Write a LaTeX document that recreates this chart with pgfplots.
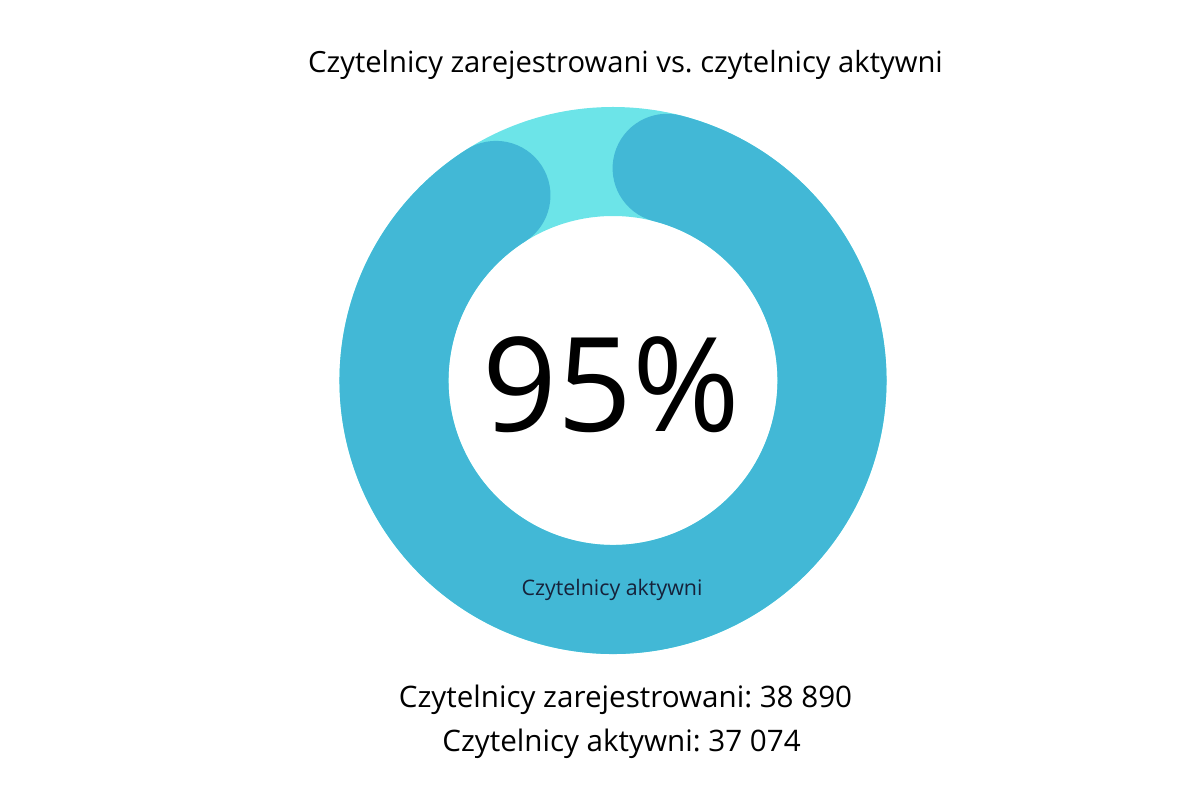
\documentclass[border=0pt]{standalone}
\usepackage{fontspec}
\setmainfont{Open Sans}
\usepackage{pgfplots}
\pgfplotsset{compat=1.18}
\frenchspacing

\definecolor{ringlight}{RGB}{108,228,232}
\definecolor{ringblue}{RGB}{66,184,214}
\definecolor{labelnavy}{RGB}{22,34,58}

% registered / active readers
\def\registered{38 890}
\def\active{37 074}
% arc ends (degrees, counter-clockwise from east) as drawn in the chart
\def\arcstart{75.7}
\def\arcend{-237.7}

\begin{document}
\begin{tikzpicture}
\begin{axis}[
    width=600bp, height=400bp,
    scale only axis,
    xmin=0, xmax=1200, ymin=0, ymax=800,
    y dir=reverse,
    hide axis,
    clip=false,
]
    \path (axis cs:0,0) rectangle (axis cs:1200,800);

    % background ring
    \draw[ringlight, line width=54.5bp] (axis cs:613,380.5) circle[radius=109.5bp];
    % value arc
    \draw[ringblue, line width=54.5bp, line cap=round]
        (axis cs:613,380.5) ++(\arcstart:109.5bp)
        arc[start angle=\arcstart, end angle=\arcend, radius=109.5bp];

    \node[anchor=base, font=\fontsize{14.6bp}{17bp}\selectfont]
        at (axis cs:625.5,73) {Czytelnicy zarejestrowani vs. czytelnicy aktywni};
    \node[anchor=base, font=\fontsize{65.5bp}{80bp}\selectfont]
        at (axis cs:611.5,432) {95\%};
    \node[anchor=base, text=labelnavy, font=\fontsize{10.7bp}{13bp}\selectfont]
        at (axis cs:612,596) {Czytelnicy aktywni};
    \node[anchor=base, font=\fontsize{14.8bp}{17bp}\selectfont]
        at (axis cs:625.5,708) {Czytelnicy zarejestrowani: \registered};
    \node[anchor=base, font=\fontsize{14.8bp}{17bp}\selectfont]
        at (axis cs:621.5,752) {Czytelnicy aktywni: \active};
\end{axis}
\end{tikzpicture}
\end{document}
